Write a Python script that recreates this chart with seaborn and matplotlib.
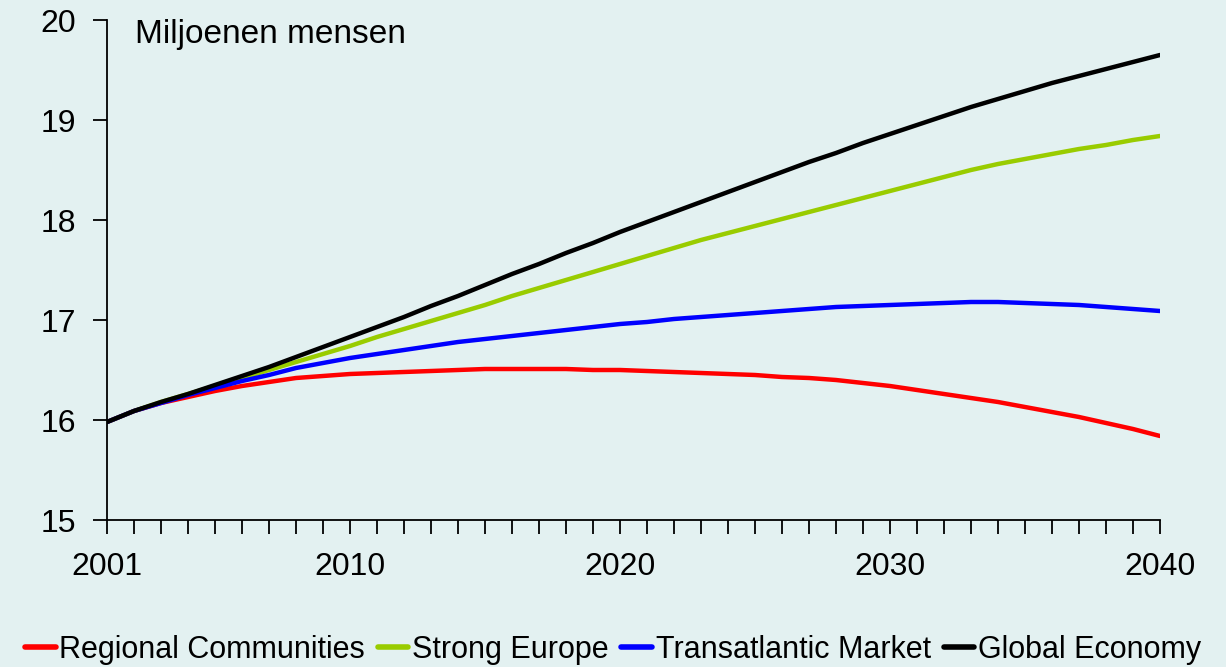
import numpy as np
import pandas as pd
import matplotlib
matplotlib.use("Agg")
import matplotlib.pyplot as plt
import seaborn as sns

years = list(range(2001, 2041))

regional_communities = [15.98, 16.09, 16.17, 16.23, 16.29, 16.34, 16.38, 16.42, 16.44, 16.46,
                        16.47, 16.48, 16.49, 16.50, 16.51, 16.51, 16.51, 16.51, 16.50, 16.50,
                        16.49, 16.48, 16.47, 16.46, 16.45, 16.43, 16.42, 16.40, 16.37, 16.34,
                        16.30, 16.26, 16.22, 16.18, 16.13, 16.08, 16.03, 15.97, 15.91, 15.84]
strong_europe = [15.98, 16.09, 16.18, 16.26, 16.34, 16.42, 16.50, 16.58, 16.66, 16.74,
                 16.83, 16.91, 16.99, 17.07, 17.15, 17.24, 17.32, 17.40, 17.48, 17.56,
                 17.64, 17.72, 17.80, 17.87, 17.94, 18.01, 18.08, 18.15, 18.22, 18.29,
                 18.36, 18.43, 18.50, 18.56, 18.61, 18.66, 18.71, 18.75, 18.80, 18.84]
transatlantic_market = [15.98, 16.09, 16.17, 16.25, 16.32, 16.39, 16.45, 16.52, 16.57, 16.62,
                        16.66, 16.70, 16.74, 16.78, 16.81, 16.84, 16.87, 16.90, 16.93, 16.96,
                        16.98, 17.01, 17.03, 17.05, 17.07, 17.09, 17.11, 17.13, 17.14, 17.15,
                        17.16, 17.17, 17.18, 17.18, 17.17, 17.16, 17.15, 17.13, 17.11, 17.09]
global_economy = [15.98, 16.09, 16.18, 16.26, 16.35, 16.44, 16.53, 16.63, 16.73, 16.83,
                  16.93, 17.03, 17.14, 17.24, 17.35, 17.46, 17.56, 17.67, 17.77, 17.88,
                  17.98, 18.08, 18.18, 18.28, 18.38, 18.48, 18.58, 18.67, 18.77, 18.86,
                  18.95, 19.04, 19.13, 19.21, 19.29, 19.37, 19.44, 19.51, 19.58, 19.65]

series_names = ["Regional Communities", "Strong Europe", "Transatlantic Market", "Global Economy"]
series_colors = ["#ff0000", "#99cc00", "#0000ff", "#000000"]
x_tick_labels = [2001, 2010, 2020, 2030, 2040]
y_ticks = [15, 16, 17, 18, 19, 20]

df = pd.DataFrame({
    "year": years * 4,
    "value": regional_communities + strong_europe + transatlantic_market + global_economy,
    "scenario": sum([[n] * len(years) for n in series_names], []),
})

bg = "#e3f1f1"
sns.set_style("ticks", {"axes.facecolor": bg, "figure.facecolor": bg})
plt.rcParams["font.family"] = ["Liberation Sans", "DejaVu Sans"]
plt.rcParams["text.color"] = "black"
plt.rcParams["xtick.color"] = "black"
plt.rcParams["ytick.color"] = "black"
plt.rcParams["xtick.labelcolor"] = "black"
plt.rcParams["ytick.labelcolor"] = "black"

fig = plt.figure(figsize=(12.26, 6.67), dpi=100)
ax = fig.add_axes([107 / 1226, 1 - 520 / 667, 1053 / 1226, 500 / 667])
ax.set_facecolor(bg)

sns.lineplot(data=df, x="year", y="value", hue="scenario", hue_order=series_names,
             palette=series_colors, linewidth=3.2, ax=ax, legend=False)

ax.set_xlim(2001, 2040)
ax.set_ylim(15, 20)
ax.set_xticks(x_tick_labels)
ax.set_xticks(years, minor=True)
ax.set_yticks(y_ticks)
ax.tick_params(axis="both", which="both", direction="out", length=10, width=1.3,
               colors="black", labelsize=23)
ax.tick_params(axis="x", which="major", pad=13)
ax.tick_params(axis="y", which="major", pad=12)
for side in ["top", "right"]:
    ax.spines[side].set_visible(False)
for side in ["left", "bottom"]:
    ax.spines[side].set_linewidth(1.3)
    ax.spines[side].set_color("black")
ax.set_xlabel("")
ax.set_ylabel("")

ax.text(0.027, 1.003, "Miljoenen mensen", transform=ax.transAxes, ha="left", va="top",
        fontsize=24, color="black")

handles = [plt.Line2D([], [], color=c, linewidth=4) for c in series_colors]
fig.legend(handles, series_names, loc="center", bbox_to_anchor=(0.5, 1 - 650 / 667),
           ncol=4, frameon=False, fontsize=22, handlelength=1.0, handletextpad=0.12,
           columnspacing=0.42, labelcolor="black")

fig.savefig("out.png", dpi=100, facecolor=bg)
